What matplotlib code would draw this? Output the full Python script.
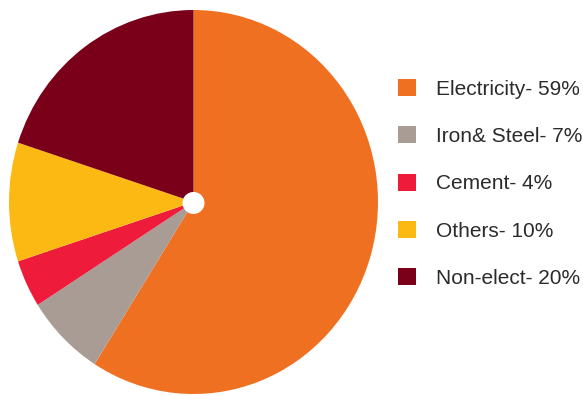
import matplotlib
matplotlib.use("Agg")
import matplotlib.pyplot as plt
from matplotlib.patches import Patch, Ellipse

categories = ["Electricity", "Iron& Steel", "Cement", "Others", "Non-elect"]
shares = [59, 7, 4, 10, 20]
colors = ["#F07022", "#A89C94", "#EE1C3A", "#FDB913", "#7A0019"]
labels = [f"{c}- {v}%" for c, v in zip(categories, shares)]

W, H = 583, 396
fig = plt.figure(figsize=(W / 100, H / 100), dpi=100)
fig.patch.set_facecolor("white")

left, right, top, bottom = 9, 378, 10, 394
ax = fig.add_axes([left / W, (H - bottom) / H, (right - left) / W, (bottom - top) / H])
ax.pie(shares, colors=colors, startangle=90, counterclock=False, radius=1,
       wedgeprops=dict(linewidth=0))
rx = 11 / ((right - left) / 2)
ry = 11 / ((bottom - top) / 2)
ax.add_patch(Ellipse((0, -0.005), 2 * rx, 2 * ry, facecolor="white", edgecolor="none", zorder=5))
ax.set_xlim(-1, 1)
ax.set_ylim(-1, 1)
ax.set_aspect("auto")
ax.axis("off")

handles = [Patch(facecolor=c, edgecolor="none") for c in colors]
fs = 15
leg = fig.legend(handles, labels, loc="upper left",
                 bbox_to_anchor=(398 / W, 1 - 79 / H),
                 frameon=False, prop=dict(family="Liberation Sans", size=fs),
                 handlelength=0.87, handleheight=0.87, handletextpad=0.95,
                 labelspacing=1.33, borderpad=0, borderaxespad=0)
for t in leg.get_texts():
    t.set_color("#2b2b2b")

fig.savefig("out.png", dpi=100, facecolor="white")
